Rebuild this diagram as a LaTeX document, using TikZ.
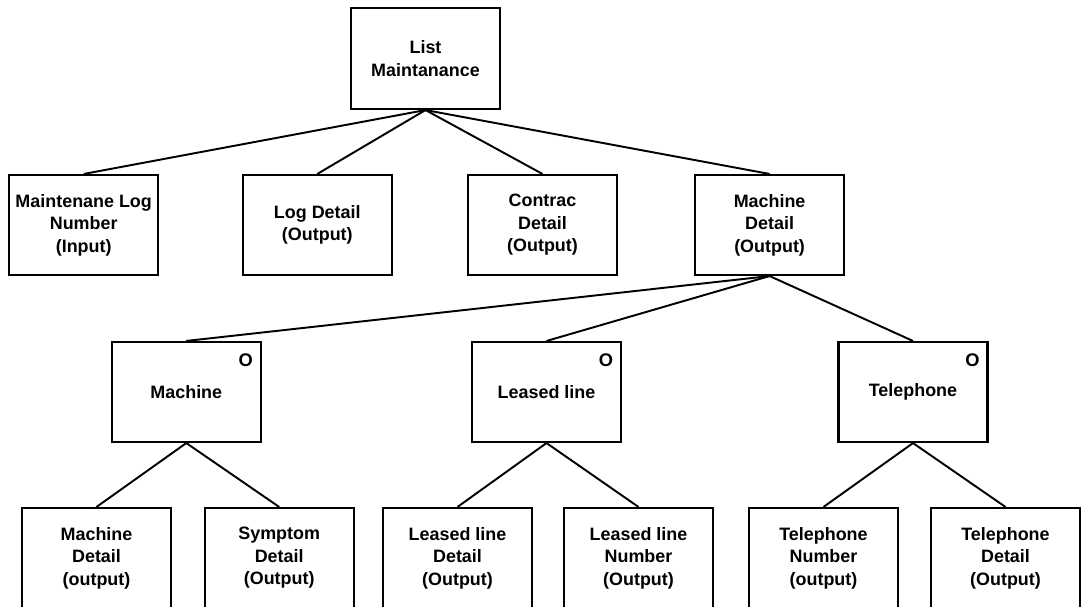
\documentclass[tikz,border=0pt]{standalone}
\usepackage{fontspec}
\setmainfont{Liberation Sans}
\usetikzlibrary{calc}
\tikzset{
  treebox/.style={draw=black, line width=1.2pt, fill=white, inner sep=2pt, align=center,
                  minimum width=2.98cm, minimum height=2.0cm,
                  font=\bfseries\fontsize{10.2}{12.8}\selectfont},
  treeline/.style={draw=black, line width=1.1pt},
  optmark/.style={inner sep=0pt, font=\bfseries\fontsize{10.4}{12}\selectfont},
}
\begin{document}
\begin{tikzpicture}[x=0.02cm,y=-0.02cm]
\useasboundingbox (0,0) rectangle (1083,606);
\clip (0,0) rectangle (1083,606);
% top
\node[treebox, minimum height=2.02cm] (root) at (425.5,58.5) {List\\Maintanance};
% first level
\node[treebox] (lognum) at (83.7,225) {Maintenane Log\\Number\\(Input)};
\node[treebox] (logdet) at (317.3,225) {Log Detail\\(Output)};
\node[treebox] (condet) at (542.5,225) {Contrac\\Detail\\(Output)};
\node[treebox] (macdet) at (769.6,225) {Machine\\Detail\\(Output)};
\draw[treeline] (root.south) -- (lognum.north);
\draw[treeline] (root.south) -- (logdet.north);
\draw[treeline] (root.south) -- (condet.north);
\draw[treeline] (root.south) -- (macdet.north);
% selection level
\node[treebox] (mach) at (186.3,392) {Machine};
\node[treebox] (lease) at (546.5,392) {Leased line};
\node[treebox] (tel) at (913,392) {Telephone};
\node[optmark] (machO) at ($(mach.north east)+(-16,19)$) {O};
\node[optmark] (leaseO) at ($(lease.north east)+(-16,19)$) {O};
\node[optmark] (telO) at ($(tel.north east)+(-16,19)$) {O};
\draw[treeline] (macdet.south) -- (mach.north);
\draw[treeline] (macdet.south) -- (lease.north);
\draw[treeline] (macdet.south) -- (tel.north);
% bottom level
\node[treebox] (machdet) at (96.5,558) {Machine\\Detail\\(output)};
\node[treebox] (symdet) at (279.2,558) {Symptom\\Detail\\(Output)};
\node[treebox] (leasedet) at (457.5,558) {Leased line\\Detail\\(Output)};
\node[treebox] (leasenum) at (638.5,558) {Leased line\\Number\\(Output)};
\node[treebox] (telnum) at (823.5,558) {Telephone\\Number\\(output)};
\node[treebox] (teldet) at (1005.5,558) {Telephone\\Detail\\(Output)};
\draw[treeline] (mach.south) -- (machdet.north);
\draw[treeline] (mach.south) -- (symdet.north);
\draw[treeline] (lease.south) -- (leasedet.north);
\draw[treeline] (lease.south) -- (leasenum.north);
\draw[treeline] (tel.south) -- (telnum.north);
\draw[treeline] (tel.south) -- (teldet.north);
\end{tikzpicture}
\end{document}
